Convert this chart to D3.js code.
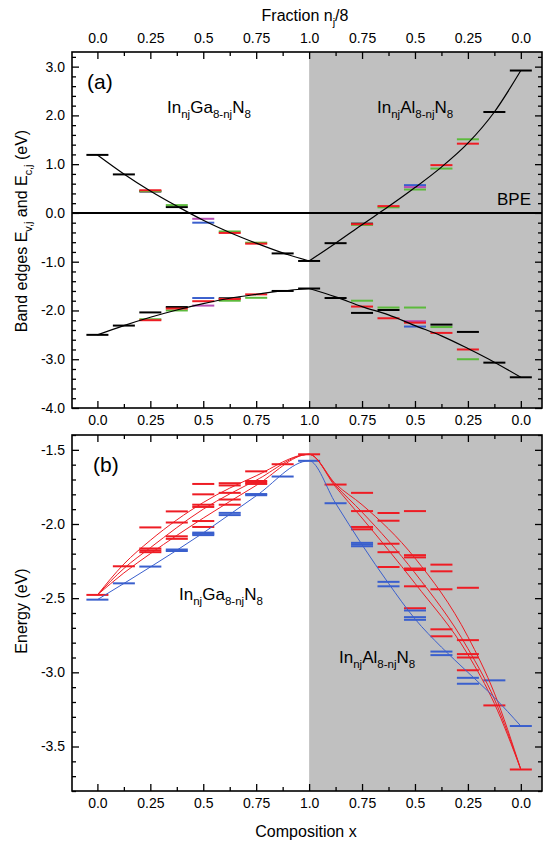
<!DOCTYPE html>
<html>
<head>
<meta charset="utf-8">
<script src="https://cdn.jsdelivr.net/npm/d3@7"></script>
<style>
body { margin: 0; background: #fff; }
text { font-family: "Liberation Sans", Arial, sans-serif; fill: #000; }
</style>
</head>
<body>
<div id="chart"></div>
<script>
const width = 543;
const height = 843;

// composition axis runs 0..1 on the InGaN side and 1..2 on the InAlN side (n_j/8 goes back to 0)
const xTicks = [0, 0.25, 0.5, 0.75, 1, 1.25, 1.5, 1.75, 2];
const xTickLabels = ["0.0", "0.25", "0.5", "0.75", "1.0", "0.75", "0.5", "0.25", "0.0"];
const xMinorTicks = [0.125, 0.375, 0.625, 0.875, 1.125, 1.375, 1.625, 1.875];

const yTicksA = [-4, -3, -2, -1, 0, 1, 2, 3];
const yTicksB = [-3.5, -3, -2.5, -2, -1.5];

// panel (a): levels per colour, [x, E]
const segA_black = [
    [0, 1.19], [0.125, 0.79], [0.25, 0.44], [0.375, 0.12], [0.875, -0.83], [1, -0.985],
    [0, -2.50], [0.125, -2.31], [0.25, -2.04], [0.375, -1.93], [0.625, -1.75], [0.875, -1.60], [1, -1.55],
    [1.125, -0.62], [1.25, -0.22], [1.875, 2.07], [2, 2.92],
    [1.125, -1.745], [1.25, -2.05], [1.375, -1.99], [1.625, -2.29], [1.75, -2.44], [1.875, -3.07], [2, -3.37]
];
const segA_green = [
    [0.25, 0.45], [0.375, 0.16], [0.625, -0.38], [0.75, -0.61],
    [0.75, -1.74], [0.625, -1.80], [0.375, -2.00], [0.25, -2.18],
    [1.25, -0.245], [1.375, 0.115], [1.5, 0.48], [1.625, 0.91], [1.75, 1.51],
    [1.25, -1.80], [1.375, -1.94], [1.5, -1.94], [1.625, -2.34], [1.75, -3.00]
];
const segA_blue = [[0.5, -0.20], [0.5, -1.745], [1.5, 0.57], [1.5, -2.33]];
const segA_purple = [[0.5, -0.12], [0.5, -1.90], [1.5, 0.53], [1.5, -2.22]];
const segA_red = [
    [0.25, 0.465], [0.625, -0.41], [0.75, -0.63],
    [0.75, -1.67], [0.625, -1.765], [0.5, -1.81], [0.375, -1.96], [0.25, -2.20],
    [1.25, -0.23], [1.375, 0.14], [1.625, 0.98], [1.75, 1.42],
    [1.25, -1.92], [1.375, -2.16], [1.5, -2.25], [1.625, -2.46], [1.75, -2.80]
];

// panel (a): fitted band-edge curves
const curveA_cbGa = [[0, 1.19], [0.125, 0.80], [0.25, 0.45], [0.375, 0.14], [0.5, -0.15], [0.625, -0.40], [0.75, -0.62], [0.875, -0.82], [1, -0.985]];
const curveA_vbGa = [[0, -2.50], [0.125, -2.31], [0.25, -2.14], [0.375, -1.99], [0.5, -1.86], [0.625, -1.75], [0.75, -1.67], [0.875, -1.60], [1, -1.55]];
const curveA_cbAl = [[1, -0.985], [1.125, -0.62], [1.25, -0.24], [1.375, 0.13], [1.5, 0.52], [1.625, 0.94], [1.75, 1.43], [1.875, 2.07], [2, 2.92]];
const curveA_vbAl = [[1, -1.55], [1.125, -1.72], [1.25, -1.92], [1.375, -2.09], [1.5, -2.31], [1.625, -2.52], [1.75, -2.78], [1.875, -3.06], [2, -3.37]];

// panel (b): levels, [x, E]
const segB_red = [
    [0, -2.478], [0.125, -2.285],
    [0.25, -2.023], [0.25, -2.165], [0.25, -2.178], [0.25, -2.19],
    [0.375, -1.915], [0.375, -1.99], [0.375, -2.083], [0.375, -2.10],
    [0.5, -1.73], [0.5, -1.80], [0.5, -1.87], [0.5, -1.885], [0.5, -1.98], [0.5, -2.02],
    [0.625, -1.725], [0.625, -1.74], [0.625, -1.79], [0.625, -1.835], [0.625, -1.87],
    [0.75, -1.645], [0.75, -1.71], [0.75, -1.72], [0.75, -1.73],
    [0.875, -1.597], [1, -1.53],
    [1.125, -1.734],
    [1.25, -1.79], [1.25, -1.913], [1.25, -2.02], [1.25, -2.036],
    [1.375, -1.926], [1.375, -1.978], [1.375, -2.133], [1.375, -2.19], [1.375, -2.29],
    [1.5, -1.913], [1.5, -2.21], [1.5, -2.225], [1.5, -2.30], [1.5, -2.31], [1.5, -2.42], [1.5, -2.568],
    [1.625, -2.274], [1.625, -2.319], [1.625, -2.44], [1.625, -2.71], [1.625, -2.757],
    [1.75, -2.43], [1.75, -2.783], [1.75, -2.877], [1.75, -2.90], [1.75, -2.986],
    [1.875, -3.223], [2, -3.655]
];
const segB_blue = [
    [0, -2.51], [0.125, -2.40], [0.25, -2.287],
    [0.375, -2.172], [0.375, -2.182],
    [0.5, -2.058], [0.5, -2.066], [0.5, -2.075],
    [0.625, -1.925], [0.625, -1.94],
    [0.75, -1.798], [0.75, -1.806],
    [0.875, -1.68], [1, -1.574],
    [1.125, -1.86],
    [1.25, -2.127], [1.25, -2.138], [1.25, -2.15],
    [1.375, -2.39], [1.375, -2.42],
    [1.5, -2.583], [1.5, -2.628], [1.5, -2.646],
    [1.625, -2.86], [1.625, -2.884],
    [1.75, -3.037], [1.75, -3.077],
    [1.875, -3.054], [2, -3.362]
];

// panel (b): curves
const curveB_red1 = [[0, -2.478], [0.125, -2.27], [0.25, -2.11], [0.5, -1.855], [0.75, -1.675], [1, -1.53],
                     [1.125, -1.73], [1.25, -1.87], [1.5, -2.23], [1.75, -2.76], [1.875, -3.14], [2, -3.655]];
const curveB_red2 = [[0, -2.478], [0.125, -2.30], [0.25, -2.16], [0.5, -1.90], [0.75, -1.705], [1, -1.53],
                     [1.125, -1.74], [1.25, -1.92], [1.5, -2.33], [1.75, -2.84], [1.875, -3.18], [2, -3.655]];
const curveB_red3 = [[0, -2.478], [0.125, -2.33], [0.25, -2.20], [0.5, -1.96], [0.75, -1.74], [1, -1.53],
                     [1.125, -1.75], [1.25, -1.96], [1.5, -2.40], [1.75, -2.88], [1.875, -3.21], [2, -3.655]];
const curveB_blue = [[0, -2.51], [0.25, -2.29], [0.5, -2.06], [0.75, -1.81], [1, -1.574],
                     [1.125, -1.86], [1.25, -2.14], [1.375, -2.40], [1.5, -2.64], [1.625, -2.83], [1.75, -3.00], [1.875, -3.17], [2, -3.362]];

const colors = { black: "#000000", red: "#ee1c24", green: "#5cba3c", blue: "#3a5fcd", purple: "#b74fb5", grey: "#c0c0c0" };
const segHalf = 0.052;

const svg = d3.select("#chart")
    .append("svg")
    .attr("width", width)
    .attr("height", height);

const left = 72, right = 542;
const x = d3.scaleLinear().domain([-0.12, 2.1]).range([left, right]);

const panelA = { top: 52, bottom: 408 };
const panelB = { top: 435, bottom: 791 };
const yA = d3.scaleLinear().domain([-4, 3.3]).range([panelA.bottom, panelA.top]);
const yB = d3.scaleLinear().domain([-3.8, -1.4]).range([panelB.bottom, panelB.top]);

const line = y => d3.line().x(d => x(d[0])).y(d => y(d[1])).curve(d3.curveMonotoneX);

function drawSegments(g, data, y, color, w) {
    g.selectAll(null)
        .data(data)
        .enter().append("line")
        .attr("x1", d => x(d[0] - segHalf))
        .attr("x2", d => x(d[0] + segHalf))
        .attr("y1", d => y(d[1]))
        .attr("y2", d => y(d[1]))
        .attr("stroke", color)
        .attr("stroke-width", w);
}

function drawCurve(g, data, y, color, w) {
    g.append("path")
        .datum(data)
        .attr("d", line(y))
        .attr("fill", "none")
        .attr("stroke", color)
        .attr("stroke-width", w);
}

function drawFrame(p, y, yTicks, minorStep, topLabels, bottomLabels) {
    const g = svg.append("g");
    const fmtX = (d, i) => xTickLabels[i];
    const fmtY = d => d.toFixed(1);

    // x axes, ticks pointing inward
    const top = g.append("g").attr("transform", `translate(0,${p.top})`)
        .call(d3.axisTop(x).tickValues(xTicks).tickSize(-7).tickPadding(9).tickFormat(topLabels ? fmtX : ""));
    g.append("g").attr("transform", `translate(0,${p.top})`)
        .call(d3.axisTop(x).tickValues(xMinorTicks).tickSize(-4).tickFormat(""));
    g.append("g").attr("transform", `translate(0,${p.bottom})`)
        .call(d3.axisBottom(x).tickValues(xTicks).tickSize(-7).tickPadding(7).tickFormat(bottomLabels ? fmtX : ""));
    g.append("g").attr("transform", `translate(0,${p.bottom})`)
        .call(d3.axisBottom(x).tickValues(xMinorTicks).tickSize(-4).tickFormat(""));

    // y axes
    const minor = d3.range(y.domain()[0], y.domain()[1] + 1e-9, minorStep).filter(v => !yTicks.some(t => Math.abs(t - v) < 1e-6));
    g.append("g").attr("transform", `translate(${left},0)`)
        .call(d3.axisLeft(y).tickValues(yTicks).tickSize(-7).tickPadding(7).tickFormat(fmtY));
    g.append("g").attr("transform", `translate(${left},0)`)
        .call(d3.axisLeft(y).tickValues(minor).tickSize(-4).tickFormat(""));
    g.append("g").attr("transform", `translate(${right},0)`)
        .call(d3.axisRight(y).tickValues(yTicks).tickSize(-7).tickFormat(""));
    g.append("g").attr("transform", `translate(${right},0)`)
        .call(d3.axisRight(y).tickValues(minor).tickSize(-4).tickFormat(""));

    g.selectAll(".domain").remove();
    g.selectAll(".tick line").attr("stroke", "#000").attr("stroke-width", 1.3);
    g.selectAll(".tick text").attr("font-size", "14px").attr("font-family", "'Liberation Sans', Arial, sans-serif").attr("fill", "#000");

    g.append("rect")
        .attr("x", left).attr("y", p.top)
        .attr("width", right - left).attr("height", p.bottom - p.top)
        .attr("fill", "none").attr("stroke", "#000").attr("stroke-width", 1.6);
}

// subscripted label helper: parts = [[text, isSub], ...]
function richText(g, parts, size, attrs) {
    const t = g.append("text").attr("font-size", size + "px");
    Object.entries(attrs).forEach(([k, v]) => t.attr(k, v));
    let sub = false;
    parts.forEach(([s, isSub]) => {
        const ts = t.append("tspan").text(s);
        if (isSub && !sub) ts.attr("dy", size * 0.3).attr("font-size", (size * 0.68) + "px");
        else if (isSub) ts.attr("font-size", (size * 0.68) + "px");
        else if (!isSub && sub) ts.attr("dy", -size * 0.3);
        sub = isSub;
    });
    return t;
}

// ---------- panel (a) ----------
const gA = svg.append("g");
gA.append("rect")
    .attr("x", x(1)).attr("y", panelA.top)
    .attr("width", right - x(1)).attr("height", panelA.bottom - panelA.top)
    .attr("fill", colors.grey);

gA.append("line")
    .attr("x1", left).attr("x2", right)
    .attr("y1", yA(0)).attr("y2", yA(0))
    .attr("stroke", "#000").attr("stroke-width", 2);

drawSegments(gA, segA_black, yA, colors.black, 2);
drawSegments(gA, segA_green, yA, colors.green, 2);
drawSegments(gA, segA_blue, yA, colors.blue, 2);
drawSegments(gA, segA_purple, yA, colors.purple, 2);
drawSegments(gA, segA_red, yA, colors.red, 2);

[curveA_cbGa, curveA_vbGa, curveA_cbAl, curveA_vbAl].forEach(c => drawCurve(gA, c, yA, "#000", 1.2));

drawFrame(panelA, yA, yTicksA, 0.2, true, true);

gA.append("text").attr("x", 87).attr("y", 89).attr("font-size", "21px").text("(a)");
gA.append("text").attr("x", 497).attr("y", 205).attr("font-size", "17px").text("BPE");
richText(gA, [["In", false], ["nj", true], ["Ga", false], ["8-nj", true], ["N", false], ["8", true]], 17, { x: 167, y: 113 });
richText(gA, [["In", false], ["nj", true], ["Al", false], ["8-nj", true], ["N", false], ["8", true]], 17, { x: 377, y: 113 });

// ---------- panel (b) ----------
const gB = svg.append("g");
gB.append("rect")
    .attr("x", x(1)).attr("y", panelB.top)
    .attr("width", right - x(1)).attr("height", panelB.bottom - panelB.top)
    .attr("fill", colors.grey);

drawSegments(gB, segB_red, yB, colors.red, 2);
drawSegments(gB, segB_blue, yB, colors.blue, 2);
[curveB_red1, curveB_red2, curveB_red3].forEach(c => drawCurve(gB, c, yB, colors.red, 1));
drawCurve(gB, curveB_blue, yB, colors.blue, 1);

drawFrame(panelB, yB, yTicksB, 0.1, false, true);

gB.append("text").attr("x", 93).attr("y", 472).attr("font-size", "21px").text("(b)");
richText(gB, [["In", false], ["nj", true], ["Ga", false], ["8-nj", true], ["N", false], ["8", true]], 17, { x: 179, y: 600 });
richText(gB, [["In", false], ["nj", true], ["Al", false], ["8-nj", true], ["N", false], ["8", true]], 17, { x: 339, y: 663 });

// ---------- axis titles ----------
richText(svg, [["Fraction n", false], ["j", true], ["/8", false]], 16, { x: 305, y: 21, "text-anchor": "middle" });
svg.append("text").attr("x", 306).attr("y", 837).attr("text-anchor", "middle").attr("font-size", "16px").text("Composition x");
richText(svg, [["Band edges E", false], ["v,j", true], [" and E", false], ["c,j", true], [" (eV)", false]], 16,
    { transform: "translate(27,231) rotate(-90)", "text-anchor": "middle" });
svg.append("text").attr("transform", "translate(27,611) rotate(-90)").attr("text-anchor", "middle")
    .attr("font-size", "16px").text("Energy (eV)");
</script>
</body>
</html>
